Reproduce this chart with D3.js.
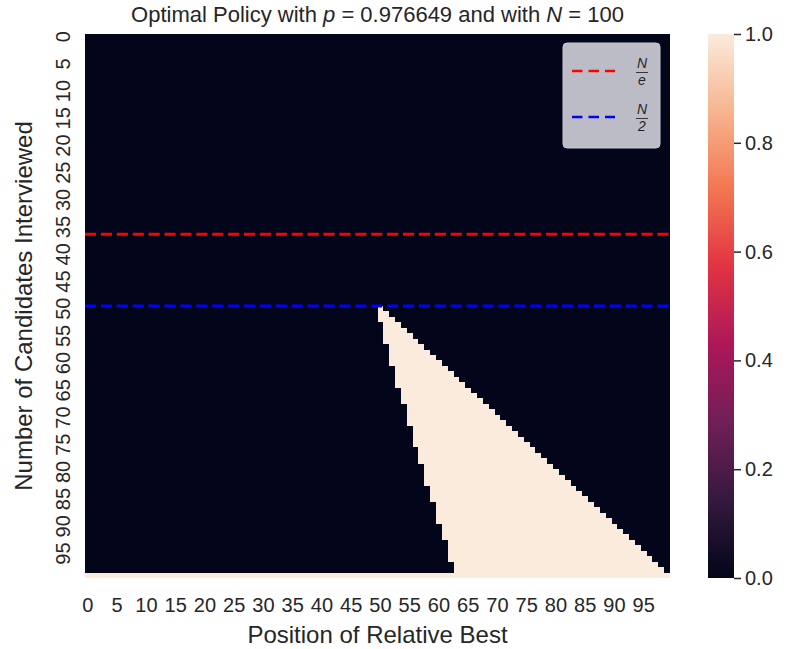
<!DOCTYPE html>
<html>
<head>
<meta charset="utf-8">
<script src="https://cdn.jsdelivr.net/npm/d3@7"></script>
<style>
  html, body { margin: 0; padding: 0; background: #ffffff; }
  svg { display: block; font-family: "Liberation Sans", Arial, sans-serif; }
</style>
</head>
<body>
<svg id="chart" width="788" height="649"></svg>
<script>
// Optimal stopping policy on a 100 x 100 grid
const N = 100;
const p = 0.976649;
const candidates = d3.range(N);          // rows: number of candidates interviewed
const positions = d3.range(N);           // columns: position of relative best
const tickLabels = d3.range(0, N, 5);    // 0, 5, ..., 95
const colorbarTicks = [0.0, 0.2, 0.4, 0.6, 0.8, 1.0];

// Stopping region per row, for rows 50..99 (first and last stopping column)
const stopRowStart = 50;
const stopFrom = [
  50, 50, 50,
  51, 51, 51, 51,
  52, 52, 52, 52,
  53, 53, 53, 53,
  54, 54, 54,
  55, 55, 55, 55,
  56, 56, 56, 56,
  57, 57, 57,
  58, 58, 58, 58,
  59, 59, 59,
  60, 60, 60, 60,
  61, 61, 61,
  62, 62, 62, 62,
  63, 63,
  0
];
const stopTo = [
  50, 51, 52, 53, 54, 55, 56, 57, 58, 59,
  60, 61, 62, 63, 64, 65, 66, 67, 68, 69,
  70, 71, 72, 73, 74, 75, 76, 77, 78, 79,
  80, 81, 82, 83, 84, 85, 86, 87, 88, 89,
  90, 91, 92, 93, 94, 95, 96, 97, 98, 99
];

// Reference lines
const refLines = [
  { value: N / Math.E, color: "#ff0000", label: "e" },
  { value: N / 2,      color: "#0000ff", label: "2" }
];

// Rocket colour map stops
const rocketStops = [
  [0.000, "#03051a"],
  [0.143, "#35193e"],
  [0.286, "#701f57"],
  [0.429, "#ad1759"],
  [0.571, "#e13342"],
  [0.714, "#f37651"],
  [0.857, "#f6b48f"],
  [1.000, "#faebdd"]
];

const policy = [];
candidates.forEach(r => {
  positions.forEach(c => {
    let v = 0;
    if (r >= stopRowStart) {
      const k = r - stopRowStart;
      if (c >= stopFrom[k] && c <= stopTo[k]) v = 1;
    }
    policy.push({ row: r, col: c, value: v });
  });
});

const svg = d3.select("#chart");
const textColor = "#262626";

const plot = { left: 85, right: 670, top: 34, bottom: 578 };

const x = d3.scaleBand().domain(positions).range([plot.left, plot.right]).padding(0);
const y = d3.scaleBand().domain(candidates).range([plot.top, plot.bottom]).padding(0);
const yLin = d3.scaleLinear().domain([0, N]).range([plot.top, plot.bottom]);

const rocket = d3.scaleLinear()
  .domain(rocketStops.map(d => d[0]))
  .range(rocketStops.map(d => d[1]))
  .interpolate(d3.interpolateRgb)
  .clamp(true);

// Heatmap cells
svg.append("g")
  .attr("shape-rendering", "crispEdges")
  .selectAll("rect")
  .data(policy)
  .join("rect")
  .attr("x", d => x(d.col))
  .attr("y", d => y(d.row))
  .attr("width", x.bandwidth() + 0.4)
  .attr("height", y.bandwidth() + 0.4)
  .attr("fill", d => rocket(d.value));

// Horizontal dashed reference lines
svg.append("g")
  .selectAll("line")
  .data(refLines)
  .join("line")
  .attr("x1", plot.left)
  .attr("x2", plot.right)
  .attr("y1", d => yLin(d.value))
  .attr("y2", d => yLin(d.value))
  .attr("stroke", d => d.color)
  .attr("stroke-width", 3)
  .attr("stroke-dasharray", "11.1,4.8");

// X tick labels
svg.append("g")
  .selectAll("text")
  .data(tickLabels)
  .join("text")
  .attr("x", d => x(d) + x.bandwidth() / 2)
  .attr("y", 612)
  .attr("text-anchor", "middle")
  .attr("font-size", 20)
  .attr("fill", textColor)
  .text(d => d);

// Y tick labels (vertical)
svg.append("g")
  .selectAll("text")
  .data(tickLabels)
  .join("text")
  .attr("transform", d => `translate(70,${y(d) + y.bandwidth() / 2}) rotate(-90)`)
  .attr("text-anchor", "middle")
  .attr("font-size", 20)
  .attr("fill", textColor)
  .text(d => d);

// Axis titles
svg.append("text")
  .attr("x", (plot.left + plot.right) / 2)
  .attr("y", 643)
  .attr("text-anchor", "middle")
  .attr("font-size", 24)
  .attr("fill", textColor)
  .text("Position of Relative Best");

svg.append("text")
  .attr("transform", `translate(32,${(plot.top + plot.bottom) / 2}) rotate(-90)`)
  .attr("text-anchor", "middle")
  .attr("font-size", 24)
  .attr("fill", textColor)
  .text("Number of Candidates Interviewed");

// Title with italic symbols
const title = svg.append("text")
  .attr("x", (plot.left + plot.right) / 2)
  .attr("y", 22)
  .attr("text-anchor", "middle")
  .attr("font-size", 22)
  .attr("fill", textColor);
title.append("tspan").text("Optimal Policy with ");
title.append("tspan").attr("font-style", "italic").text("p");
title.append("tspan").text(` = ${p} and with `);
title.append("tspan").attr("font-style", "italic").text("N");
title.append("tspan").text(` = ${N}`);

// Legend
const legend = svg.append("g").attr("transform", "translate(563,43)");
legend.append("rect")
  .attr("width", 97)
  .attr("height", 105)
  .attr("rx", 4)
  .attr("fill", "#bcbcc7")
  .attr("stroke", "#c8c8d0")
  .attr("stroke-width", 1);

const entries = legend.selectAll("g.entry")
  .data(refLines)
  .join("g")
  .attr("class", "entry")
  .attr("transform", (d, i) => `translate(0,${28 + i * 46})`);

entries.append("line")
  .attr("x1", 9)
  .attr("x2", 52)
  .attr("stroke", d => d.color)
  .attr("stroke-width", 2.5)
  .attr("stroke-dasharray", "10.5,6");

entries.append("text")
  .attr("x", 79)
  .attr("y", -3)
  .attr("text-anchor", "middle")
  .attr("font-size", 14)
  .attr("font-style", "italic")
  .attr("fill", textColor)
  .text("N");
entries.append("line")
  .attr("x1", 73)
  .attr("x2", 85)
  .attr("y1", 1.5)
  .attr("y2", 1.5)
  .attr("stroke", textColor)
  .attr("stroke-width", 0.9);
entries.append("text")
  .attr("x", 79)
  .attr("y", 14)
  .attr("text-anchor", "middle")
  .attr("font-size", 14)
  .attr("font-style", "italic")
  .attr("fill", textColor)
  .text(d => d.label);

// Colour bar
const cb = { left: 708, width: 26, top: 34, bottom: 578 };
const cbScale = d3.scaleLinear().domain([0, 1]).range([cb.bottom, cb.top]);

const defs = svg.append("defs");
const grad = defs.append("linearGradient")
  .attr("id", "rocket-grad")
  .attr("x1", 0).attr("y1", 1).attr("x2", 0).attr("y2", 0);
grad.selectAll("stop")
  .data(rocketStops)
  .join("stop")
  .attr("offset", d => d[0])
  .attr("stop-color", d => d[1]);

svg.append("rect")
  .attr("x", cb.left)
  .attr("y", cb.top)
  .attr("width", cb.width)
  .attr("height", cb.bottom - cb.top)
  .attr("fill", "url(#rocket-grad)");

const cbAxis = d3.axisRight(cbScale)
  .tickValues(colorbarTicks)
  .tickFormat(d3.format(".1f"))
  .tickSize(7)
  .tickPadding(4);

const cbG = svg.append("g")
  .attr("transform", `translate(${cb.left + cb.width},0)`)
  .call(cbAxis);
cbG.select(".domain").remove();
cbG.selectAll(".tick line").attr("stroke", textColor).attr("stroke-width", 1.5);
cbG.selectAll(".tick text")
  .attr("fill", textColor)
  .attr("font-size", 20)
  .attr("font-family", "Liberation Sans, Arial, sans-serif");
</script>
</body>
</html>
